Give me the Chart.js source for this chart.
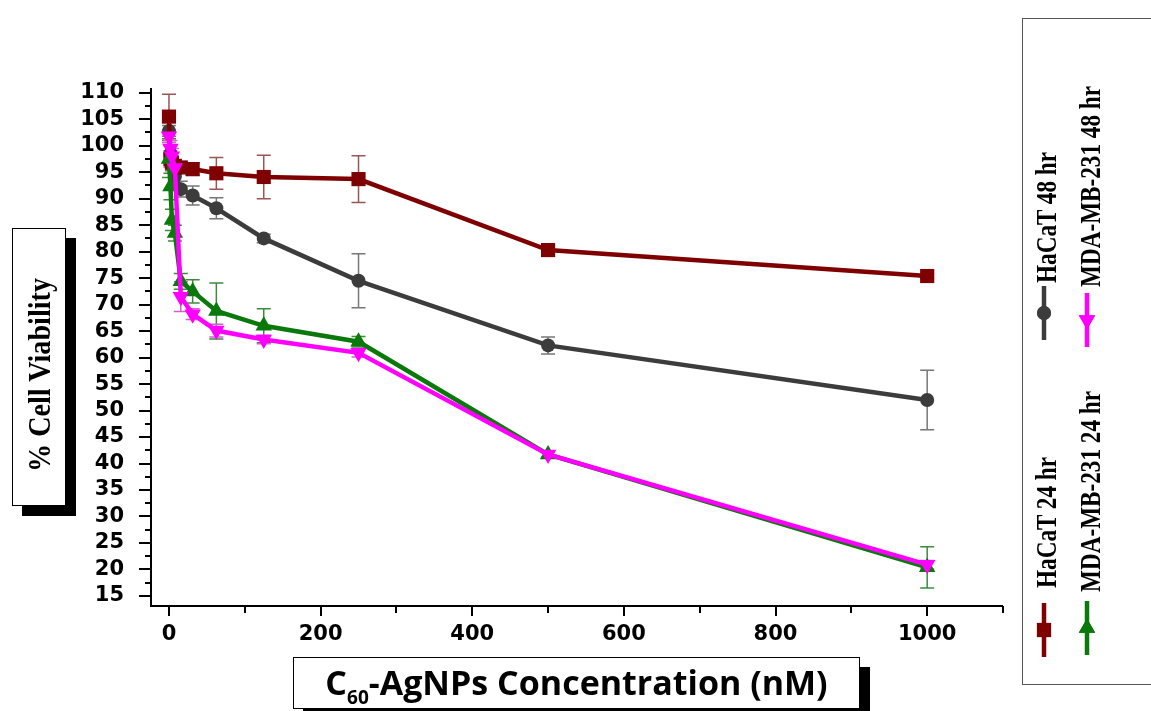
<!DOCTYPE html>
<html>
<head>
<meta charset="utf-8">
<script src="https://cdn.jsdelivr.net/npm/chart.js@4.4.0/dist/chart.umd.min.js"></script>
<style>
  body { margin: 0; background: #fff; width: 1151px; height: 711px; overflow: hidden; position: relative; }
  #chart { position: absolute; left: 0; top: 0; }
  .box { position: absolute; background: #fff; border: 1px solid #000; box-shadow: 10px 10px 0 #000; }
  .rot { position: absolute; white-space: nowrap; transform-origin: 0 50%; }
  #legendBox { position: absolute; left: 1022px; top: 18px; width: 140px; height: 665px; border: 1.5px solid #555; }
  .leg { font-family: "Liberation Serif", serif; font-weight: bold; font-size: 29px; line-height: 30px; height: 30px; color: #000;
         transform: rotate(-90deg) scaleX(0.8); }
  #ytitle { font-family: "Liberation Serif", serif; font-weight: bold; font-size: 32px; line-height: 32px; height: 32px;
            transform: rotate(-90deg) scaleX(0.88); }
  #xtitle { position: absolute; left: 293px; top: 657px; width: 565px; height: 50px; text-align: center;
            font-family: "Open Sans", sans-serif; font-weight: bold; font-size: 34px; line-height: 48px; }
  #xtitle sub { font-size: 19px; vertical-align: -9px; line-height: 0; }
</style>
</head>
<body>
<canvas id="chart" width="1151" height="711"></canvas>

<div class="box" style="left:12px;top:228px;width:52px;height:276px;"></div>
<div id="ytitle" class="rot" style="left:39px;top:456px;">% Cell Viability</div>

<div class="box" id="xtitle">C<sub>60</sub>-AgNPs Concentration (nM)</div>

<div id="legendBox"></div>
<div class="rot leg" style="left:1046px;top:573px;">HaCaT 24 hr</div>
<div class="rot leg" style="left:1046px;top:268px;">HaCaT 48 hr</div>
<div class="rot leg" style="left:1090px;top:577px;">MDA-MB-231 24 hr</div>
<div class="rot leg" style="left:1090px;top:272px;">MDA-MB-231 48 hr</div>

<script>
// concentrations (nM)
const conc = [0, 1.95, 3.9, 7.8, 15.6, 31.25, 62.5, 125, 250, 500, 1000];

// % cell viability
const hacat24    = [105.5, 97.5, 96.8, 96.2, 95.9, 95.6, 94.8, 94.1, 93.7, 80.3, 75.4];
const hacat24Err = [4.2, 1.5, 1.2, 1.0, 1.0, 1.2, 3.0, 4.1, 4.4, 0.8, 0.5];
const hacat48    = [102.8, 98.5, 96.5, 94.2, 91.8, 90.6, 88.2, 82.5, 74.5, 62.3, 52.0];
const hacat48Err = [1.0, 1.5, 1.2, 1.5, 1.5, 1.8, 2.0, 0.8, 5.1, 1.6, 5.6];
const mda24      = [97.5, 92.3, 86.0, 83.5, 74.4, 72.5, 68.8, 66.0, 63.0, 41.7, 20.4];
const mda24Err   = [3.5, 2.5, 2.0, 1.5, 1.5, 2.2, 5.3, 3.2, 1.0, 0.5, 3.9];
const mda48      = [101.8, 99.5, 98.0, 95.8, 71.5, 68.2, 65.1, 63.4, 60.9, 41.7, 20.9];
const mda48Err   = [1.2, 1.5, 1.5, 1.2, 2.8, 1.0, 1.2, 0.8, 0.8, 0.6, 0.8];

const yTicks = [15, 20, 25, 30, 35, 40, 45, 50, 55, 60, 65, 70, 75, 80, 85, 90, 95, 100, 105, 110];
const xTicks = [0, 200, 400, 600, 800, 1000];

const tickFont = { family: '"DejaVu Sans", sans-serif', size: 21, weight: 'bold' };

function toPoints(vals) {
  return conc.map((c, i) => ({ x: c, y: vals[i] }));
}

function series(label, vals, errs, color, errColor, style, radius, rotation, order) {
  return {
    label: label,
    data: toPoints(vals),
    errs: errs,
    errColor: errColor,
    borderColor: color,
    backgroundColor: color,
    borderWidth: 4.5,
    pointStyle: style,
    pointRadius: radius,
    pointRotation: rotation,
    pointBorderWidth: 0,
    tension: 0,
    order: order
  };
}

const datasets = [
  series('HaCaT 24 hr', hacat24, hacat24Err, '#7f0000', '#9a5555', 'rect', 10, 0, 2),
  series('HaCaT 48 hr', hacat48, hacat48Err, '#3c3c3c', '#777777', 'circle', 7, 0, 3),
  series('MDA-MB-231 24 hr', mda24, mda24Err, '#0a780a', '#3d8a3d', 'triangle', 9.5, 0, 1),
  series('MDA-MB-231 48 hr', mda48, mda48Err, '#ff00ff', '#d060d0', 'triangle', 9.5, 180, 0)
];

// legend symbol positions (column x, symbol y)
const legendPos = [[1044, 630], [1044, 313], [1087, 628], [1087, 320]];

const extras = {
  id: 'extras',
  beforeDatasetsDraw(chart) {
    const { ctx, scales: { x, y } } = chart;
    chart.data.datasets.forEach(ds => {
      ctx.save();
      ctx.strokeStyle = ds.errColor;
      ctx.lineWidth = 1.5;
      ds.data.forEach((p, i) => {
        const e = ds.errs[i];
        if (!e) return;
        const px = x.getPixelForValue(p.x);
        const top = y.getPixelForValue(p.y + e);
        const bot = y.getPixelForValue(p.y - e);
        ctx.beginPath();
        ctx.moveTo(px, top); ctx.lineTo(px, bot);
        ctx.moveTo(px - 7, top); ctx.lineTo(px + 7, top);
        ctx.moveTo(px - 7, bot); ctx.lineTo(px + 7, bot);
        ctx.stroke();
      });
      ctx.restore();
    });
  },
  afterDraw(chart) {
    const { ctx, chartArea: a, scales: { x, y } } = chart;
    ctx.save();
    ctx.strokeStyle = '#000';
    ctx.lineWidth = 2;
    ctx.beginPath();
    ctx.moveTo(a.left, a.top); ctx.lineTo(a.left, a.bottom + 1);
    ctx.moveTo(a.left - 1, a.bottom); ctx.lineTo(a.right, a.bottom);
    // y ticks
    yTicks.forEach(v => {
      const py = Math.round(y.getPixelForValue(v));
      ctx.moveTo(a.left - 12, py); ctx.lineTo(a.left, py);
      const pm = Math.round(y.getPixelForValue(v + 2.5));
      if (v + 2.5 < y.max) { ctx.moveTo(a.left - 6, pm); ctx.lineTo(a.left, pm); }
    });
    // x ticks
    for (let v = 0; v <= 1100; v += 100) {
      const px = Math.round(x.getPixelForValue(v));
      const len = v % 200 === 0 ? 10 : 7;
      ctx.moveTo(px, a.bottom); ctx.lineTo(px, a.bottom + len);
    }
    ctx.stroke();

    // legend symbols
    chart.data.datasets.forEach((ds, i) => {
      const [lx, ly] = legendPos[i];
      ctx.strokeStyle = ds.borderColor;
      ctx.lineWidth = 4.5;
      ctx.beginPath();
      ctx.moveTo(lx, ly - 27); ctx.lineTo(lx, ly + 27);
      ctx.stroke();
      ctx.fillStyle = ds.backgroundColor;
      Chart.helpers.drawPoint(ctx, {
        pointStyle: ds.pointStyle, radius: ds.pointRadius, rotation: ds.pointRotation, borderWidth: 0
      }, lx, ly);
      ctx.fill();
    });
    ctx.restore();
  }
};

new Chart(document.getElementById('chart'), {
  type: 'line',
  data: { datasets: datasets },
  options: {
    responsive: false,
    animation: false,
    layout: { padding: { top: 88, right: 148, bottom: 0, left: 0 } },
    scales: {
      x: {
        type: 'linear',
        min: -23.7,
        max: 1100,
        grid: { display: false, drawTicks: false },
        border: { display: false },
        afterBuildTicks: s => { s.ticks = xTicks.map(v => ({ value: v })); },
        afterFit: s => { s.height = 105; },
        ticks: { color: '#000', font: tickFont, padding: 16, maxRotation: 0, autoSkip: false,
                 callback: v => String(v) }
      },
      y: {
        min: 13.1,
        max: 110.9,
        grid: { display: false, drawTicks: false },
        border: { display: false },
        afterBuildTicks: s => { s.ticks = yTicks.map(v => ({ value: v })); },
        afterFit: s => { s.width = 151; },
        ticks: { color: '#000', font: tickFont, padding: 27, autoSkip: false,
                 callback: v => String(v) }
      }
    },
    plugins: {
      legend: { display: false },
      tooltip: { enabled: false }
    }
  },
  plugins: [extras]
});
</script>
</body>
</html>
